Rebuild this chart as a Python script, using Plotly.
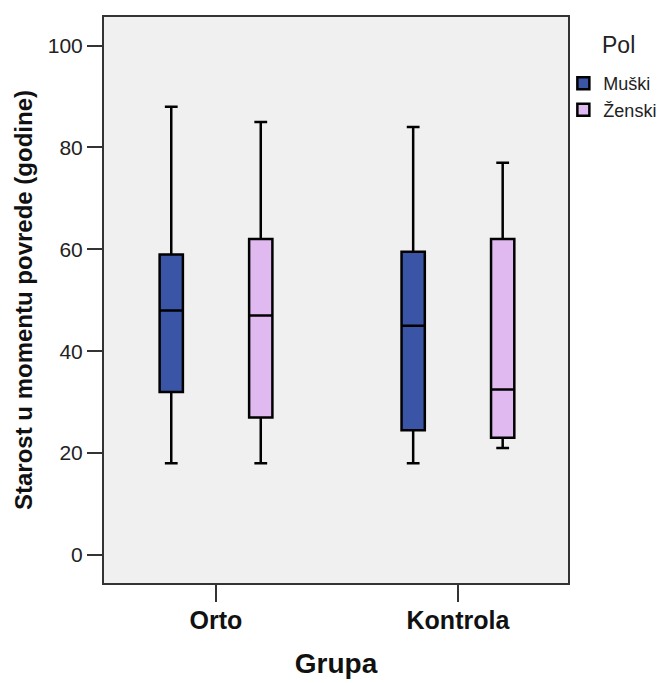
import plotly.graph_objects as go

categories = ["Orto", "Kontrola"]
series_names = ["Muški", "Ženski"]
colors = ["#3A54A6", "#E0B9F1"]

# five-number summaries per series, one value per category
lower = {"Muški": [18, 18], "Ženski": [18, 21]}
q1 = {"Muški": [32, 24.5], "Ženski": [27, 23]}
median = {"Muški": [48, 45], "Ženski": [47, 32.5]}
q3 = {"Muški": [59, 59.5], "Ženski": [62, 62]}
upper = {"Muški": [88, 84], "Ženski": [85, 77]}

y_ticks = [0, 20, 40, 60, 80, 100]
legend_title = "Pol"

fig = go.Figure()
for name, col in zip(series_names, colors):
    fig.add_trace(go.Box(
        x=categories,
        name=name,
        q1=q1[name], median=median[name], q3=q3[name],
        lowerfence=lower[name], upperfence=upper[name],
        fillcolor=col,
        line=dict(color="#000000", width=2.5),
        whiskerwidth=0.55,
        boxpoints=False,
        hoverinfo="skip",
    ))

FONT = "Liberation Sans, Arial, sans-serif"
fig.update_layout(
    width=660, height=675,
    margin=dict(l=96, r=100, t=9, b=100, autoexpand=False),
    paper_bgcolor="white",
    plot_bgcolor="#F0F0F0",
    boxmode="group",
    boxgap=0.26,
    boxgroupgap=0.74,
    showlegend=True,
    legend=dict(
        x=0.99, xanchor="left", xref="paper",
        y=0.915, yanchor="top",
        font=dict(family=FONT, size=18, color="#222"),
        bgcolor="rgba(0,0,0,0)",
        tracegroupgap=0,
        itemwidth=30,
    ),
    font=dict(family=FONT, color="#222"),
    annotations=[dict(
        text=legend_title, xref="paper", yref="paper",
        x=1.108, y=0.95, xanchor="center", yanchor="middle",
        showarrow=False, font=dict(family=FONT, size=23, color="#222"),
    )],
)
fig.update_xaxes(
    type="category",
    range=[-0.463, 1.455],
    showline=True, mirror=True, linecolor="#333", linewidth=2,
    ticks="outside", ticklen=17, tickwidth=2, tickcolor="#333",
    tickfont=dict(family=FONT, size=25, color="#111", weight="bold"),
    ticklabelstandoff=-3,
    showgrid=False, zeroline=False,
    title=dict(text="<b>Grupa</b>", font=dict(family=FONT, size=28, color="#111"), standoff=20),
)
fig.update_yaxes(
    range=[-5.5, 105.6],
    tickvals=y_ticks,
    showline=True, mirror=True, linecolor="#333", linewidth=2,
    ticks="outside", ticklen=15, tickwidth=2, tickcolor="#333",
    tickfont=dict(family=FONT, size=21, color="#222"),
    showgrid=False, zeroline=False,
    title=dict(text="<b>Starost u momentu povrede (godine)</b>", font=dict(family=FONT, size=24, color="#111"), standoff=8),
)

fig.write_html("out.html")
